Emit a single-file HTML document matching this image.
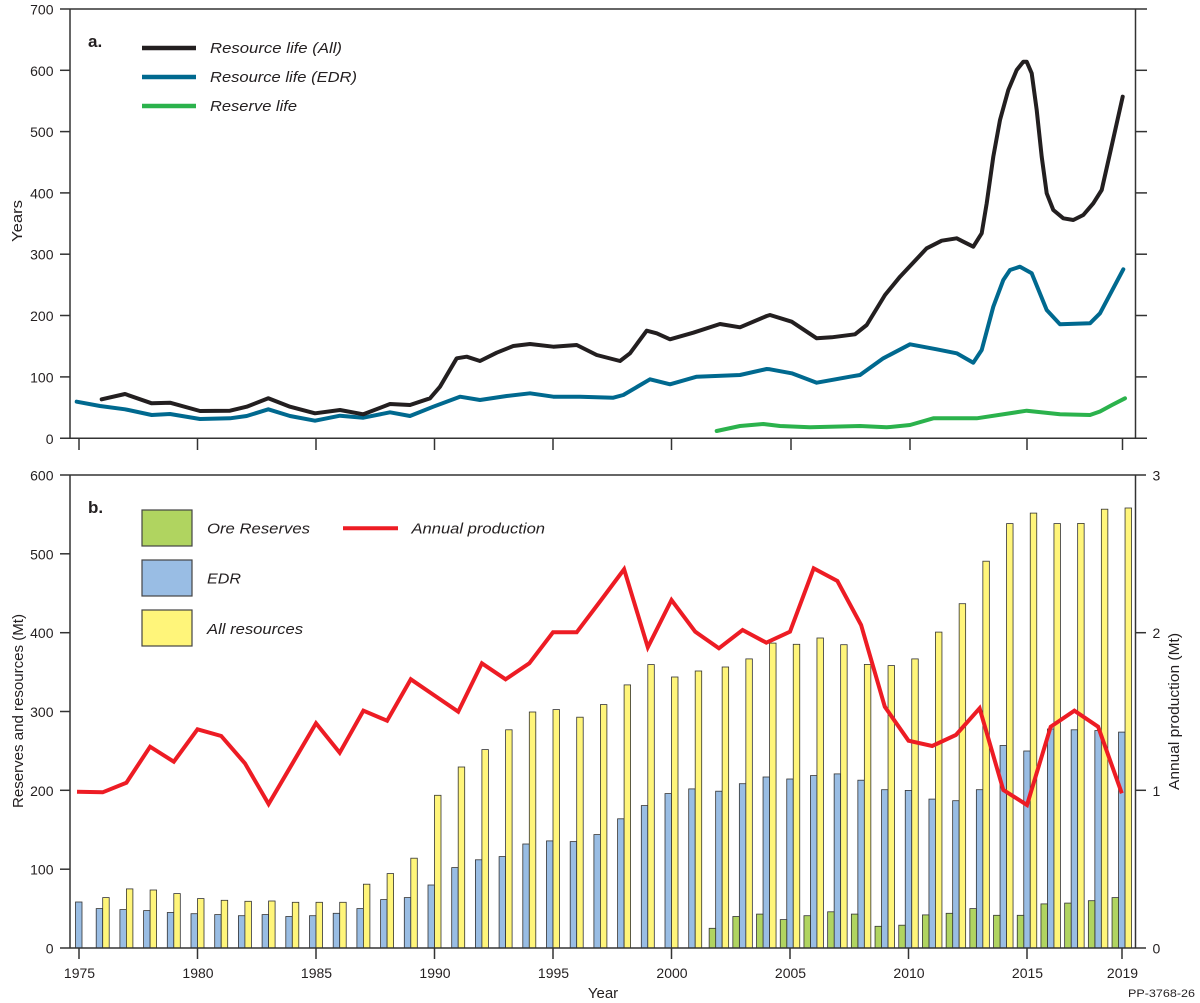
<!DOCTYPE html>
<html><head><meta charset="utf-8"><style>
html,body{margin:0;padding:0;background:#fff;}
svg{display:block;}
text{font-family:"Liberation Sans",Arial,sans-serif;fill:#231f20;}
.t{font-size:14px;}
.lg{font-size:15px;font-style:italic;}
</style></head><body>
<svg width="1200" height="1003" viewBox="0 0 1200 1003" xmlns="http://www.w3.org/2000/svg">
<rect width="1200" height="1003" fill="#fff"/>

<g stroke-linejoin="round" stroke-linecap="round" fill="none">
<polyline stroke="#2bb24c" stroke-width="4" points="716.7,431 740,426 763.3,424 780,426 810,427.3 860,426 886.7,427.3 910,425 933.3,418.3 976.7,418.3 1026.7,410.7 1060,414.3 1090,415 1100,411.5 1112,405 1125,398.3"/>
<polyline stroke="#00698f" stroke-width="4" points="76.7,401.7 100,406 125,409.3 151.7,415 170,414 200,419 230,418.3 246.7,416 268.3,409.3 290,416 315,420.7 340,415.7 363.3,417.7 390,412.3 410,416 433.3,406.7 460,396.7 480,400 506.7,396 530,393.3 553.3,396.7 580,396.7 613.3,397.7 623.3,395 650,379.3 670,384.3 696.7,376.7 740,375 766.7,369 770,369.3 791.7,373.3 816.7,382.7 850,376.7 860,375 883.3,358.3 910,344.3 936.7,349.3 956.7,353.3 973.3,362.7 981.7,350 993.3,306.7 1003.3,280 1010,270 1020,266.7 1031.7,273.3 1046.7,310 1060,324.3 1090,323.3 1100,313.3 1123.3,269.3"/>
<polyline stroke="#231f20" stroke-width="4" points="101.7,399.3 125,394 151.7,403.3 170,402.7 200,411 230,410.7 246.7,406.7 268.3,398.3 290,406.7 315,413.3 340,410 363.3,414.3 390,404 410,405 430,398.3 440,386.7 456.7,358.3 466.7,356.7 480,361 496.7,352.7 513.3,346 530,344 553.3,346.7 576.7,345 596.7,355 620,361 630,353.3 646.7,330.7 656.7,333.3 670,339.3 693.3,332.7 720,324 740,327.3 766.7,316 770,315 791.7,321.7 816.7,338.3 831.7,337.3 855,334.3 866.7,325 885,295 900,276.7 926.7,248.3 941.7,240.7 956.7,238.3 963.3,241.7 973.3,246.7 981.7,233.3 986.7,203.3 993.3,156.7 1000,120 1008.3,90 1016.7,70 1023.3,61.7 1026.7,61.7 1031.7,73.3 1036.7,110 1041.7,156.7 1046.7,193.3 1053.3,210 1063.3,218.3 1073.3,220 1083.3,215 1093.3,203.3 1101.7,190 1110,153.3 1122.7,96.7"/>
</g>

<g stroke="#333" stroke-width="1.5" fill="none">
<line x1="60" y1="9" x2="1147" y2="9"/>
<line x1="60" y1="438.3" x2="1147" y2="438.3"/>
<line x1="70" y1="9" x2="70" y2="438.3"/>
<line x1="1135.5" y1="9" x2="1135.5" y2="438.3"/>
<line x1="60" y1="70.3" x2="70" y2="70.3"/>
<line x1="60" y1="131.6" x2="70" y2="131.6"/>
<line x1="60" y1="192.9" x2="70" y2="192.9"/>
<line x1="60" y1="254.2" x2="70" y2="254.2"/>
<line x1="60" y1="315.5" x2="70" y2="315.5"/>
<line x1="60" y1="376.9" x2="70" y2="376.9"/>
<line x1="1135.5" y1="70.3" x2="1147" y2="70.3"/>
<line x1="1135.5" y1="131.6" x2="1147" y2="131.6"/>
<line x1="1135.5" y1="192.9" x2="1147" y2="192.9"/>
<line x1="1135.5" y1="254.2" x2="1147" y2="254.2"/>
<line x1="1135.5" y1="315.5" x2="1147" y2="315.5"/>
<line x1="1135.5" y1="376.9" x2="1147" y2="376.9"/>
<line x1="79" y1="438.3" x2="79" y2="450"/>
<line x1="197.5" y1="438.3" x2="197.5" y2="450"/>
<line x1="316" y1="438.3" x2="316" y2="450"/>
<line x1="434.5" y1="438.3" x2="434.5" y2="450"/>
<line x1="553" y1="438.3" x2="553" y2="450"/>
<line x1="671.5" y1="438.3" x2="671.5" y2="450"/>
<line x1="791" y1="438.3" x2="791" y2="450"/>
<line x1="910" y1="438.3" x2="910" y2="450"/>
<line x1="1027" y1="438.3" x2="1027" y2="450"/>
<line x1="1122.5" y1="438.3" x2="1122.5" y2="450"/>
</g>
<g class="t" text-anchor="end">
<text x="53.5" y="14.5">700</text>
<text x="53.5" y="75.8">600</text>
<text x="53.5" y="137.1">500</text>
<text x="53.5" y="198.4">400</text>
<text x="53.5" y="259.7">300</text>
<text x="53.5" y="321">200</text>
<text x="53.5" y="382.4">100</text>
<text x="53.5" y="443.8">0</text>
</g>
<text transform="translate(22,221) rotate(-90)" text-anchor="middle" font-size="15" textLength="42" lengthAdjust="spacingAndGlyphs">Years</text>

<text x="88" y="47" font-size="17" font-weight="bold">a.</text>
<line x1="142" y1="48" x2="196" y2="48" stroke="#231f20" stroke-width="4.5"/>
<line x1="142" y1="77" x2="196" y2="77" stroke="#00698f" stroke-width="4.5"/>
<line x1="142" y1="106" x2="196" y2="106" stroke="#2bb24c" stroke-width="4.5"/>
<text class="lg" x="210" y="53" textLength="132" lengthAdjust="spacingAndGlyphs">Resource life (All)</text>
<text class="lg" x="210" y="82" textLength="147" lengthAdjust="spacingAndGlyphs">Resource life (EDR)</text>
<text class="lg" x="210" y="111" textLength="87" lengthAdjust="spacingAndGlyphs">Reserve life</text>

<g fill="#99bde4" stroke="#333" stroke-width="0.8">
<rect x="75.5" y="902" width="6.5" height="46"/>
<rect x="96.2" y="908.6" width="6.5" height="39.4"/>
<rect x="119.9" y="909.6" width="6.5" height="38.4"/>
<rect x="143.6" y="910.6" width="6.5" height="37.4"/>
<rect x="167.3" y="912.5" width="6.5" height="35.5"/>
<rect x="191" y="913.7" width="6.5" height="34.3"/>
<rect x="214.7" y="914.6" width="6.5" height="33.4"/>
<rect x="238.4" y="915.7" width="6.5" height="32.3"/>
<rect x="262.1" y="914.6" width="6.5" height="33.4"/>
<rect x="285.8" y="916.5" width="6.5" height="31.5"/>
<rect x="309.5" y="915.7" width="6.5" height="32.3"/>
<rect x="333.2" y="913.3" width="6.5" height="34.7"/>
<rect x="356.9" y="908.6" width="6.5" height="39.4"/>
<rect x="380.6" y="899.6" width="6.5" height="48.4"/>
<rect x="404.3" y="897.6" width="6.5" height="50.4"/>
<rect x="428" y="885" width="6.5" height="63"/>
<rect x="451.7" y="867.6" width="6.5" height="80.4"/>
<rect x="475.4" y="859.8" width="6.5" height="88.2"/>
<rect x="499.1" y="856.6" width="6.5" height="91.4"/>
<rect x="522.8" y="844" width="6.5" height="104"/>
<rect x="546.5" y="840.9" width="6.5" height="107.1"/>
<rect x="570.2" y="841.6" width="6.5" height="106.4"/>
<rect x="593.9" y="834.6" width="6.5" height="113.4"/>
<rect x="617.6" y="818.8" width="6.5" height="129.2"/>
<rect x="641.3" y="805.6" width="6.5" height="142.4"/>
<rect x="665" y="793.6" width="6.5" height="154.4"/>
<rect x="688.7" y="788.9" width="6.5" height="159.1"/>
<rect x="715.65" y="791.2" width="6.5" height="156.8"/>
<rect x="739.35" y="783.7" width="6.5" height="164.3"/>
<rect x="763.05" y="777" width="6.5" height="171"/>
<rect x="786.75" y="779" width="6.5" height="169"/>
<rect x="810.45" y="775.6" width="6.5" height="172.4"/>
<rect x="834.15" y="773.9" width="6.5" height="174.1"/>
<rect x="857.85" y="780.2" width="6.5" height="167.8"/>
<rect x="881.55" y="789.7" width="6.5" height="158.3"/>
<rect x="905.25" y="790.4" width="6.5" height="157.6"/>
<rect x="928.95" y="799.1" width="6.5" height="148.9"/>
<rect x="952.65" y="800.7" width="6.5" height="147.3"/>
<rect x="976.35" y="789.7" width="6.5" height="158.3"/>
<rect x="1000.05" y="745.5" width="6.5" height="202.5"/>
<rect x="1023.75" y="751" width="6.5" height="197"/>
<rect x="1047.45" y="729" width="6.5" height="219"/>
<rect x="1071.15" y="729.8" width="6.5" height="218.2"/>
<rect x="1094.85" y="730.6" width="6.5" height="217.4"/>
<rect x="1118.55" y="732.1" width="6.5" height="215.9"/>
</g>
<g fill="#fff57a" stroke="#333" stroke-width="0.8">
<rect x="102.7" y="897.6" width="6.5" height="50.4"/>
<rect x="126.4" y="888.9" width="6.5" height="59.1"/>
<rect x="150.1" y="890" width="6.5" height="58"/>
<rect x="173.8" y="893.6" width="6.5" height="54.4"/>
<rect x="197.5" y="898.6" width="6.5" height="49.4"/>
<rect x="221.2" y="900.3" width="6.5" height="47.7"/>
<rect x="244.9" y="901.3" width="6.5" height="46.7"/>
<rect x="268.6" y="901" width="6.5" height="47"/>
<rect x="292.3" y="902.3" width="6.5" height="45.7"/>
<rect x="316" y="902.3" width="6.5" height="45.7"/>
<rect x="339.7" y="902.3" width="6.5" height="45.7"/>
<rect x="363.4" y="884.2" width="6.5" height="63.8"/>
<rect x="387.1" y="873.6" width="6.5" height="74.4"/>
<rect x="410.8" y="858.2" width="6.5" height="89.8"/>
<rect x="434.5" y="795.3" width="6.5" height="152.7"/>
<rect x="458.2" y="767" width="6.5" height="181"/>
<rect x="481.9" y="749.6" width="6.5" height="198.4"/>
<rect x="505.6" y="729.8" width="6.5" height="218.2"/>
<rect x="529.3" y="712" width="6.5" height="236"/>
<rect x="553" y="709.6" width="6.5" height="238.4"/>
<rect x="576.7" y="717.2" width="6.5" height="230.8"/>
<rect x="600.4" y="704.6" width="6.5" height="243.4"/>
<rect x="624.1" y="684.9" width="6.5" height="263.1"/>
<rect x="647.8" y="664.6" width="6.5" height="283.4"/>
<rect x="671.5" y="677" width="6.5" height="271"/>
<rect x="695.2" y="671" width="6.5" height="277"/>
<rect x="722.15" y="667" width="6.5" height="281"/>
<rect x="745.85" y="658.9" width="6.5" height="289.1"/>
<rect x="769.55" y="643.1" width="6.5" height="304.9"/>
<rect x="793.25" y="644.3" width="6.5" height="303.7"/>
<rect x="816.95" y="638" width="6.5" height="310"/>
<rect x="840.65" y="644.7" width="6.5" height="303.3"/>
<rect x="864.35" y="664.4" width="6.5" height="283.6"/>
<rect x="888.05" y="665.6" width="6.5" height="282.4"/>
<rect x="911.75" y="658.9" width="6.5" height="289.1"/>
<rect x="935.45" y="632.1" width="6.5" height="315.9"/>
<rect x="959.15" y="603.7" width="6.5" height="344.3"/>
<rect x="982.85" y="561.2" width="6.5" height="386.8"/>
<rect x="1006.55" y="523.6" width="6.5" height="424.4"/>
<rect x="1030.25" y="513.1" width="6.5" height="434.9"/>
<rect x="1053.95" y="523.6" width="6.5" height="424.4"/>
<rect x="1077.65" y="523.4" width="6.5" height="424.6"/>
<rect x="1101.35" y="509.2" width="6.5" height="438.8"/>
<rect x="1125.05" y="508" width="6.5" height="440"/>
</g>
<g fill="#b0d460" stroke="#333" stroke-width="0.8">
<rect x="709.15" y="928.3" width="6.5" height="19.7"/>
<rect x="732.85" y="916.5" width="6.5" height="31.5"/>
<rect x="756.55" y="914.1" width="6.5" height="33.9"/>
<rect x="780.25" y="919.6" width="6.5" height="28.4"/>
<rect x="803.95" y="915.7" width="6.5" height="32.3"/>
<rect x="827.65" y="911.8" width="6.5" height="36.2"/>
<rect x="851.35" y="914.1" width="6.5" height="33.9"/>
<rect x="875.05" y="926.3" width="6.5" height="21.7"/>
<rect x="898.75" y="925.2" width="6.5" height="22.8"/>
<rect x="922.45" y="914.9" width="6.5" height="33.1"/>
<rect x="946.15" y="913.3" width="6.5" height="34.7"/>
<rect x="969.85" y="908.6" width="6.5" height="39.4"/>
<rect x="993.55" y="915.3" width="6.5" height="32.7"/>
<rect x="1017.25" y="915.3" width="6.5" height="32.7"/>
<rect x="1040.95" y="903.9" width="6.5" height="44.1"/>
<rect x="1064.65" y="903.1" width="6.5" height="44.9"/>
<rect x="1088.35" y="900.7" width="6.5" height="47.3"/>
<rect x="1112.05" y="897.6" width="6.5" height="50.4"/>
</g>

<polyline fill="none" stroke="#ed1c24" stroke-width="4" stroke-linejoin="miter" stroke-miterlimit="3" points="77,791.7 102.7,792.3 126.4,782.7 150.1,746.7 173.8,761.7 197.5,729.3 221.2,736 244.9,763.3 268.6,804 292.3,763.7 316,723.3 339.7,752.7 363.4,710.7 387.1,720.7 410.8,679.3 434.5,695.5 458.2,711.7 481.9,663.3 505.6,679.3 529.3,663.3 553,632.3 576.7,632.3 600.4,601 624.1,569.3 647.8,647.3 671.5,600 695.2,631.7 718.9,648.3 742.6,630 766.3,642.7 790,631.7 813.7,568.3 837.4,581 861.1,625 884.8,706.7 908.5,740.7 932.2,746 955.9,735 979.6,708.3 1003.3,790 1027,805 1050.7,726.7 1074.4,710.7 1098.1,726.7 1121.8,793.3"/>

<g stroke="#333" stroke-width="1.5" fill="none">
<line x1="60" y1="475" x2="1146" y2="475"/>
<line x1="60" y1="948" x2="1146" y2="948"/>
<line x1="70" y1="475" x2="70" y2="948"/>
<line x1="1135.5" y1="475" x2="1135.5" y2="948"/>
<line x1="60" y1="553.8" x2="70" y2="553.8"/>
<line x1="60" y1="632.7" x2="70" y2="632.7"/>
<line x1="60" y1="711.5" x2="70" y2="711.5"/>
<line x1="60" y1="790.3" x2="70" y2="790.3"/>
<line x1="60" y1="869.2" x2="70" y2="869.2"/>
<line x1="1135.5" y1="632.7" x2="1146" y2="632.7"/>
<line x1="1135.5" y1="790.3" x2="1146" y2="790.3"/>
<line x1="79" y1="948" x2="79" y2="959"/>
<line x1="197.5" y1="948" x2="197.5" y2="959"/>
<line x1="316" y1="948" x2="316" y2="959"/>
<line x1="434.5" y1="948" x2="434.5" y2="959"/>
<line x1="553" y1="948" x2="553" y2="959"/>
<line x1="671.5" y1="948" x2="671.5" y2="959"/>
<line x1="790" y1="948" x2="790" y2="959"/>
<line x1="908.5" y1="948" x2="908.5" y2="959"/>
<line x1="1027" y1="948" x2="1027" y2="959"/>
<line x1="1122" y1="948" x2="1122" y2="959"/>
</g>
<g class="t" text-anchor="end">
<text x="53.5" y="480.5">600</text>
<text x="53.5" y="559.3">500</text>
<text x="53.5" y="638.2">400</text>
<text x="53.5" y="717">300</text>
<text x="53.5" y="795.8">200</text>
<text x="53.5" y="874.7">100</text>
<text x="53.5" y="953.5">0</text>
</g>
<g class="t">
<text x="1152.5" y="480.5">3</text>
<text x="1152.5" y="638.2">2</text>
<text x="1152.5" y="795.8">1</text>
<text x="1152.5" y="953.5">0</text>
</g>
<g class="t" text-anchor="middle">
<text x="79.5" y="978">1975</text>
<text x="198" y="978">1980</text>
<text x="316.5" y="978">1985</text>
<text x="435" y="978">1990</text>
<text x="553.5" y="978">1995</text>
<text x="672" y="978">2000</text>
<text x="790.5" y="978">2005</text>
<text x="909" y="978">2010</text>
<text x="1027.5" y="978">2015</text>
<text x="1122.5" y="978">2019</text>
</g>
<text x="603" y="998" text-anchor="middle" font-size="15">Year</text>
<text x="1195" y="997" text-anchor="end" font-size="11" textLength="67" lengthAdjust="spacingAndGlyphs">PP-3768-26</text>
<text transform="translate(23,711) rotate(-90)" text-anchor="middle" font-size="15" textLength="194" lengthAdjust="spacingAndGlyphs">Reserves and resources (Mt)</text>
<text transform="translate(1179,711.5) rotate(-90)" text-anchor="middle" font-size="15" textLength="157" lengthAdjust="spacingAndGlyphs">Annual production (Mt)</text>

<text x="88" y="513" font-size="17" font-weight="bold">b.</text>
<rect x="142" y="510" width="50" height="36" fill="#b0d460" stroke="#444" stroke-width="1.2"/>
<rect x="142" y="560" width="50" height="36" fill="#99bde4" stroke="#444" stroke-width="1.2"/>
<rect x="142" y="610" width="50" height="36" fill="#fff57a" stroke="#444" stroke-width="1.2"/>
<text class="lg" x="207" y="533.5" textLength="103" lengthAdjust="spacingAndGlyphs">Ore Reserves</text>
<text class="lg" x="207" y="583.5" textLength="34" lengthAdjust="spacingAndGlyphs">EDR</text>
<text class="lg" x="207" y="634" textLength="96" lengthAdjust="spacingAndGlyphs">All resources</text>
<line x1="343" y1="528.3" x2="398" y2="528.3" stroke="#ed1c24" stroke-width="4"/>
<text class="lg" x="411.5" y="533.5" textLength="133.5" lengthAdjust="spacingAndGlyphs">Annual production</text>
</svg>
</body></html>
